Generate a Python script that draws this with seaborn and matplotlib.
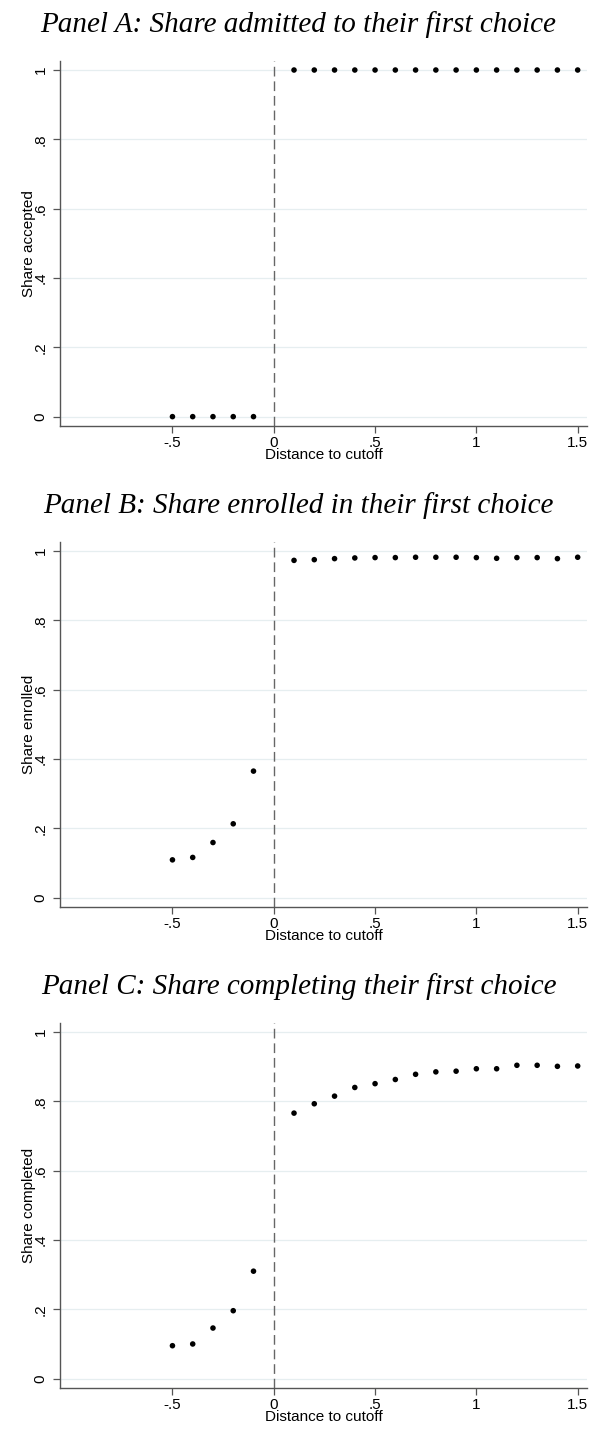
import numpy as np
import pandas as pd
import matplotlib
matplotlib.use("Agg")
import matplotlib.pyplot as plt
import seaborn as sns

# bins of distance to cutoff
x_below = [-0.5, -0.4, -0.3, -0.2, -0.1]
x_above = [0.1, 0.2, 0.3, 0.4, 0.5, 0.6, 0.7, 0.8, 0.9, 1.0, 1.1, 1.2, 1.3, 1.4, 1.5]

accepted_below = [0, 0, 0, 0, 0]
accepted_above = [1] * 15

enrolled_below = [0.109, 0.116, 0.159, 0.213, 0.365]
enrolled_above = [0.973, 0.975, 0.978, 0.980, 0.981, 0.981, 0.982, 0.982, 0.982,
                  0.981, 0.979, 0.981, 0.981, 0.978, 0.982]

completed_below = [0.095, 0.100, 0.146, 0.196, 0.310]
completed_above = [0.766, 0.793, 0.815, 0.840, 0.851, 0.863, 0.878, 0.885, 0.887,
                   0.894, 0.894, 0.904, 0.904, 0.901, 0.902]

titles = ["Panel A: Share admitted to their first choice",
          "Panel B: Share enrolled in their first choice",
          "Panel C: Share completing their first choice"]
ylabels = ["Share accepted", "Share enrolled", "Share completed"]
yticks = [0, 0.2, 0.4, 0.6, 0.8, 1]
ytick_labels = ["0", ".2", ".4", ".6", ".8", "1"]
xticks = [-0.5, 0, 0.5, 1, 1.5]
xtick_labels = ["-.5", "0", ".5", "1", "1.5"]

panels = [(accepted_below, accepted_above),
          (enrolled_below, enrolled_above),
          (completed_below, completed_above)]

sns.set_style("white")
plt.rcParams['font.family'] = ['Liberation Sans', 'DejaVu Sans']
plt.rcParams['text.color'] = 'black'
plt.rcParams['axes.labelcolor'] = 'black'
plt.rcParams['xtick.color'] = 'black'
plt.rcParams['ytick.color'] = 'black'

W, H = 597, 1432
fig = plt.figure(figsize=(W / 100, H / 100), dpi=100)

axis_col = "#555555"
grid_col = "#E6EEF0"

for k, (below, above) in enumerate(panels):
    off = 481 * k
    top, bottom = 61 + off, 426 + off
    left, right = 60, 587
    ax = fig.add_axes([left / W, 1 - bottom / H, (right - left) / W, (bottom - top) / H])

    df = pd.DataFrame({"x": x_below + x_above, "y": list(below) + list(above)})
    ax.axvline(0, color="#666666", lw=1.0, ls=(0, (7, 3.5)), zorder=1)
    sns.scatterplot(data=df, x="x", y="y", ax=ax, color="black", s=16,
                    edgecolor="none", zorder=3)

    ax.set_xlim(-1.055, 1.546)
    ax.set_ylim(-0.027, 1.026)
    ax.set_yticks(yticks)
    ax.set_yticklabels(ytick_labels, rotation=90, va="center")
    ax.set_xticks(xticks)
    ax.set_xticklabels(xtick_labels)
    ax.grid(axis="y", color=grid_col, lw=0.9)
    ax.set_axisbelow(True)
    for s in ["top", "right"]:
        ax.spines[s].set_visible(False)
    for s in ["left", "bottom"]:
        ax.spines[s].set_color(axis_col)
        ax.spines[s].set_linewidth(1.0)
    ax.tick_params(axis="both", direction="out", length=5, width=0.9,
                   color=axis_col, labelcolor="black", labelsize=11, pad=2,
                   left=True, bottom=True)
    ax.tick_params(axis="y", pad=4)
    ax.set_xlabel("Distance to cutoff", fontsize=11, labelpad=-1)
    ax.set_ylabel(ylabels[k], fontsize=11, labelpad=-2)

    fig.text(0.5, 1 - (25 + off) / H, titles[k], ha="center", va="center",
             fontsize=21, style="italic", color="black",
             family=["Liberation Serif", "DejaVu Serif"])

fig.savefig("out.png", dpi=100)
